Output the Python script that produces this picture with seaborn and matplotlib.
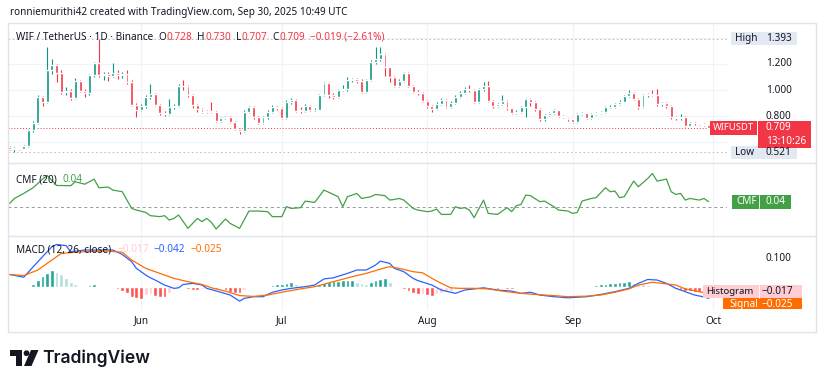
import matplotlib
matplotlib.use("Agg")
import matplotlib.pyplot as plt
from matplotlib.patches import Rectangle, Circle, Polygon
import seaborn as sns
import pandas as pd

# WIF/USDT daily candles, 4 May - 30 Sep 2025 (bar 0 = 4 May)
opens = [
    0.565, 0.548, 0.552, 0.550, 0.569, 0.692, 0.744, 0.949, 0.910, 1.154,
    1.192, 1.128, 0.987, 0.995, 0.936, 1.072, 0.995, 0.974, 1.115, 1.205,
    1.115, 1.120, 1.108, 1.128, 1.112, 1.125, 1.064, 0.885, 0.846, 0.877,
    0.949, 0.969, 0.885, 0.820, 0.815, 0.867, 0.880, 1.031, 1.030, 0.962,
    0.885, 0.851, 0.833, 0.840, 0.830, 0.764, 0.785, 0.790, 0.756, 0.697,
    0.687, 0.833, 0.867, 0.790, 0.749, 0.790, 0.833, 0.867, 0.862, 0.782,
    0.910, 0.923, 0.841, 0.840, 0.877, 0.846, 0.850, 0.962, 1.051, 0.962,
    0.949, 0.999, 1.005, 1.077, 1.082, 1.072, 0.987, 1.077, 1.218, 1.236,
    1.277, 1.174, 1.103, 1.033, 1.072, 1.128, 1.031, 0.987, 0.974, 0.918,
    0.877, 0.851, 0.892, 0.923, 0.872, 0.903, 0.949, 0.979, 1.005, 1.000,
    0.910, 1.005, 1.031, 0.918, 0.877, 0.892, 0.918, 0.859, 0.826, 0.830,
    0.872, 0.928, 0.910, 0.851, 0.774, 0.808, 0.820, 0.846, 0.800, 0.790,
    0.774, 0.756, 0.815, 0.820, 0.782, 0.815, 0.820, 0.833, 0.867, 0.872,
    0.892, 0.910, 0.954, 0.979, 0.928, 0.867, 0.962, 0.969, 0.964, 0.892,
    0.900, 0.877, 0.790, 0.782, 0.795, 0.726, 0.744, 0.743, 0.738, 0.728]
highs = [
    0.572, 0.560, 0.558, 0.575, 0.700, 0.760, 0.960, 0.955, 1.330, 1.240,
    1.200, 1.150, 1.020, 1.010, 1.090, 1.080, 1.010, 1.125, 1.215, 1.393,
    1.140, 1.135, 1.205, 1.150, 1.140, 1.150, 1.075, 0.900, 0.890, 0.960,
    1.050, 0.975, 0.895, 0.835, 0.930, 0.895, 1.045, 1.080, 1.040, 0.970,
    0.895, 0.860, 0.850, 0.910, 0.840, 0.795, 0.800, 0.800, 0.765, 0.705,
    0.845, 0.880, 0.875, 0.800, 0.800, 0.845, 0.885, 0.880, 0.870, 0.920,
    0.935, 0.930, 0.870, 0.890, 0.885, 0.860, 0.970, 1.060, 1.060, 0.975,
    1.010, 1.040, 1.100, 1.090, 1.095, 1.085, 1.085, 1.230, 1.328, 1.333,
    1.285, 1.180, 1.110, 1.085, 1.140, 1.135, 1.040, 1.000, 0.985, 0.925,
    0.885, 0.905, 0.935, 0.930, 0.915, 0.960, 0.990, 1.020, 1.040, 1.010,
    1.015, 1.065, 1.070, 0.925, 0.900, 0.962, 0.925, 0.865, 0.845, 0.880,
    0.935, 0.935, 0.915, 0.860, 0.815, 0.830, 0.855, 0.850, 0.808, 0.795,
    0.780, 0.825, 0.830, 0.825, 0.825, 0.830, 0.842, 0.875, 0.882, 0.900,
    0.920, 0.965, 1.000, 0.985, 0.935, 0.972, 0.975, 1.000, 1.005, 0.910,
    0.905, 0.885, 0.800, 0.815, 0.800, 0.752, 0.752, 0.748, 0.745, 0.730]
lows = [
    0.540, 0.521, 0.542, 0.545, 0.560, 0.680, 0.735, 0.880, 0.900, 1.120,
    1.060, 0.970, 0.960, 0.920, 0.930, 0.985, 0.950, 0.965, 1.100, 1.100,
    1.080, 1.070, 1.100, 1.085, 1.095, 1.050, 0.875, 0.790, 0.835, 0.865,
    0.930, 0.875, 0.810, 0.800, 0.810, 0.855, 0.870, 1.000, 0.950, 0.860,
    0.830, 0.820, 0.825, 0.820, 0.755, 0.755, 0.775, 0.745, 0.690, 0.660,
    0.680, 0.825, 0.780, 0.740, 0.740, 0.780, 0.825, 0.845, 0.775, 0.775,
    0.895, 0.830, 0.825, 0.830, 0.835, 0.838, 0.845, 0.955, 0.935, 0.930,
    0.940, 0.990, 0.995, 1.065, 1.055, 0.975, 0.980, 1.070, 1.200, 1.220,
    1.110, 1.060, 1.020, 1.025, 1.060, 1.020, 0.975, 0.960, 0.905, 0.860,
    0.830, 0.845, 0.885, 0.860, 0.865, 0.895, 0.940, 0.970, 0.985, 0.900,
    0.900, 0.995, 0.905, 0.865, 0.868, 0.885, 0.850, 0.815, 0.815, 0.820,
    0.790, 0.880, 0.840, 0.765, 0.765, 0.800, 0.812, 0.790, 0.782, 0.765,
    0.745, 0.750, 0.805, 0.775, 0.775, 0.808, 0.812, 0.825, 0.858, 0.862,
    0.885, 0.905, 0.945, 0.920, 0.855, 0.860, 0.950, 0.955, 0.880, 0.880,
    0.865, 0.780, 0.770, 0.772, 0.718, 0.720, 0.732, 0.728, 0.720, 0.707]
closes = [
    0.548, 0.552, 0.550, 0.569, 0.692, 0.744, 0.949, 0.910, 1.154, 1.192,
    1.128, 0.987, 0.995, 0.936, 1.072, 0.995, 0.974, 1.115, 1.205, 1.115,
    1.120, 1.108, 1.128, 1.112, 1.125, 1.064, 0.885, 0.846, 0.877, 0.949,
    0.969, 0.885, 0.820, 0.815, 0.867, 0.880, 1.031, 1.030, 0.962, 0.885,
    0.851, 0.833, 0.840, 0.830, 0.764, 0.785, 0.790, 0.756, 0.697, 0.687,
    0.833, 0.867, 0.790, 0.749, 0.790, 0.833, 0.867, 0.862, 0.782, 0.910,
    0.923, 0.841, 0.840, 0.877, 0.846, 0.850, 0.962, 1.051, 0.962, 0.949,
    0.999, 1.005, 1.077, 1.082, 1.072, 0.987, 1.077, 1.218, 1.236, 1.277,
    1.174, 1.103, 1.033, 1.072, 1.128, 1.031, 0.987, 0.974, 0.918, 0.877,
    0.851, 0.892, 0.923, 0.872, 0.903, 0.949, 0.979, 1.005, 1.000, 0.910,
    1.005, 1.031, 0.918, 0.877, 0.892, 0.918, 0.859, 0.826, 0.830, 0.872,
    0.928, 0.910, 0.851, 0.774, 0.808, 0.820, 0.846, 0.800, 0.790, 0.774,
    0.756, 0.815, 0.820, 0.782, 0.815, 0.820, 0.833, 0.867, 0.872, 0.892,
    0.910, 0.954, 0.979, 0.928, 0.867, 0.962, 0.969, 0.964, 0.892, 0.900,
    0.877, 0.790, 0.782, 0.795, 0.726, 0.744, 0.743, 0.738, 0.728, 0.709]

# CMF(20), read at the line's corners (bar index, value)
cmf_bar = [0, 1, 3, 5, 7, 8, 10, 13, 14, 16, 18, 19, 21, 22, 24, 26, 27, 29, 30, 32,
           33, 34, 35, 36, 37, 38, 40, 41, 42, 43, 44, 46, 47, 49, 51, 53, 55, 56, 58, 59,
           60, 62, 63, 65, 67, 69, 70, 71, 72, 74, 75, 77, 78, 80, 81, 82, 83, 84, 86, 87,
           89, 90, 91, 92, 94, 95, 96, 97, 98, 99, 101, 102, 104, 106, 107, 108, 109, 110, 111, 113,
           114, 116, 117, 119, 120, 121, 122, 124, 125, 127, 128, 129, 130, 131, 133, 134, 136, 137, 138, 140,
           141, 142, 143, 144, 145, 147, 148, 149]
cmf_val = [0.026, 0.066, 0.106, 0.152, 0.22, 0.25, 0.17, 0.168, 0.20, 0.18,
           0.221, 0.152, 0.157, 0.133, 0.12, -0.014, -0.027, -0.046, -0.072, -0.08,
           -0.072, -0.107, -0.094, -0.067, -0.12, -0.174, -0.094, -0.12, -0.094, -0.126,
           -0.179, -0.099, -0.134, -0.174, -0.035, -0.035, -0.04, -0.08, -0.08, 0.0,
           -0.014, -0.008, 0.045, 0.034, 0.133, 0.098, 0.08, 0.0, 0.08, 0.106,
           0.066, 0.08, 0.098, 0.088, 0.053, 0.058, 0.066, 0.053, -0.014, -0.027,
           -0.04, -0.035, -0.019, -0.062, -0.062, 0.0, -0.014, -0.008, -0.027, -0.088,
           0.053, -0.054, -0.062, -0.008, -0.04, 0.008, 0.018, 0.093, 0.088, 0.04,
           0.045, 0.0, -0.027, -0.035, -0.054, -0.046, 0.045, 0.066, 0.072, 0.152,
           0.12, 0.125, 0.072, 0.08, 0.205, 0.16, 0.226, 0.266, 0.205, 0.221,
           0.12, 0.098, 0.106, 0.053, 0.066, 0.053, 0.066, 0.04]

# MACD (12, 26, close): MACD and signal lines read at their corners
macd_bar = [0, 3, 6, 9, 10, 12, 13, 16, 19, 22, 24, 26, 27, 29, 30, 31, 33, 35, 36, 37,
            39, 41, 42, 45, 47, 49, 50, 52, 54, 56, 58, 60, 63, 65, 67, 69, 72, 74, 76, 78,
            79, 81, 82, 84, 86, 87, 90, 92, 95, 97, 100, 101, 104, 107, 109, 111, 113, 116, 119, 123,
            126, 129, 132, 134, 136, 138, 140, 142, 144, 146, 148, 149]
macd_val = [0.044, 0.034, 0.090, 0.144, 0.152, 0.148, 0.126, 0.132, 0.132, 0.132,
            0.116, 0.090, 0.066, 0.042, 0.032, 0.024, 0.006, -0.006, -0.004, 0.008,
            0.012, 0.006, -0.006, -0.020, -0.030, -0.052, -0.042, -0.036, -0.036, -0.020,
            -0.012, -0.006, 0.000, 0.006, 0.028, 0.032, 0.048, 0.060, 0.060, 0.078,
            0.092, 0.084, 0.066, 0.054, 0.030, 0.022, 0.006, -0.012, -0.024, -0.012,
            -0.006, -0.004, -0.012, -0.016, -0.024, -0.020, -0.030, -0.036, -0.040, -0.036,
            -0.028, -0.018, -0.006, 0.012, 0.026, 0.024, 0.012, -0.006, -0.018, -0.030,
            -0.037, -0.042]
sig_bar = [0, 3, 6, 9, 11, 14, 16, 21, 24, 26, 29, 32, 35, 38, 41, 43, 46, 49, 52, 55,
           58, 62, 65, 69, 73, 76, 80, 81, 83, 86, 88, 90, 92, 94, 96, 99, 102, 105, 109, 112,
           116, 119, 123, 126, 129, 132, 134, 137, 139, 142, 144, 147, 149]
sig_val = [0.044, 0.040, 0.060, 0.096, 0.120, 0.124, 0.126, 0.128, 0.124, 0.096,
           0.066, 0.048, 0.030, 0.018, 0.008, -0.004, -0.016, -0.032, -0.035, -0.030,
           -0.020, -0.008, 0.000, 0.018, 0.036, 0.048, 0.068, 0.072, 0.066, 0.054,
           0.050, 0.030, 0.012, -0.004, -0.006, -0.006, -0.008, -0.016, -0.024, -0.028,
           -0.032, -0.036, -0.034, -0.030, -0.020, -0.008, 0.006, 0.016, 0.012, 0.006,
           -0.008, -0.018, -0.025]
hist = [
    -0.002, -0.004, -0.004, -0.006, -0.002, 0.008, 0.024, 0.038, 0.050, 0.060,
    0.054, 0.044, 0.032, 0.018, 0.008, 0.004, 0.002, 0.006, 0.008, 0.004,
    0.001, -0.002, -0.006, -0.010, -0.016, -0.024, -0.036, -0.042, -0.044, -0.030,
    -0.026, -0.032, -0.036, -0.038, -0.024, -0.010, -0.004, -0.006, -0.010, -0.011,
    -0.012, -0.008, -0.004, -0.004, -0.008, -0.004, -0.012, -0.018, -0.022, -0.024,
    -0.012, -0.004, -0.002, -0.004, -0.002, 0.004, 0.006, 0.008, 0.010, 0.014,
    0.018, 0.008, 0.006, 0.005, 0.004, 0.004, 0.010, 0.014, 0.018, 0.020,
    0.022, 0.023, 0.024, 0.025, 0.018, 0.014, 0.010, 0.018, 0.024, 0.028,
    0.030, 0.018, 0.004, -0.004, -0.010, -0.016, -0.022, -0.028, -0.026, -0.030,
    -0.032, -0.028, -0.024, -0.020, -0.016, -0.010, -0.006, -0.004, -0.003, -0.002,
    -0.002, 0.004, -0.002, -0.006, -0.008, -0.004, -0.008, -0.010, -0.004, -0.002,
    0.002, 0.000, -0.002, -0.004, -0.006, -0.004, -0.002, -0.004, -0.006, -0.004,
    -0.003, -0.002, 0.002, 0.002, 0.004, 0.006, 0.008, 0.010, 0.012, 0.014,
    0.016, 0.018, 0.022, 0.012, 0.010, 0.008, 0.006, 0.004, 0.002, -0.002,
    -0.004, -0.006, -0.010, -0.012, -0.014, -0.016, -0.018, -0.020, -0.021, -0.017]

month_bar = [28, 58, 89, 120, 150]
month_lbl = ['Jun', 'Jul', 'Aug', 'Sep', 'Oct']
price_ticks = [1.2, 1.0, 0.8]

UP, DOWN = '#089981', '#F23645'
DARK = '#131722'
GRID = '#f0f3fa'

sns.set_theme(style='white')
plt.rcParams['font.family'] = ['Noto Sans', 'DejaVu Sans']

W, H = 825, 385
fig = plt.figure(figsize=(W / 100, H / 100), dpi=100, facecolor='white')


def rect(x0, y0, x1, y1):
    return [x0 / W, 1 - y1 / H, (x1 - x0) / W, (y1 - y0) / H]


ax_p = fig.add_axes(rect(8, 23, 727, 163))
ax_c = fig.add_axes(rect(8, 163, 727, 236))
ax_m = fig.add_axes(rect(8, 236, 727, 310))

for ax in (ax_p, ax_c, ax_m):
    ax.set_xlim(-0.36, 152.9)
    ax.set_facecolor('white')
    for s in ax.spines.values():
        s.set_visible(False)
    ax.set_xticks([])
    ax.set_yticks([])
    for b in month_bar:
        ax.axvline(b, color=GRID, lw=0.8, zorder=0)

ax_p.set_ylim(0.439, 1.515)
ax_c.set_ylim(-0.235, 0.35)
ax_m.set_ylim(-0.0839, 0.1825)

# price pane: grid, reference lines, candles
for v in [0.6, 0.8, 1.0, 1.2, 1.4]:
    ax_p.axhline(v, color=GRID, lw=0.8, zorder=0)
ax_p.axhline(1.393, color='#b2b5be', lw=0.6, ls=(0, (2, 3)), zorder=1)
ax_p.axhline(0.521, color='#b2b5be', lw=0.6, ls=(0, (2, 3)), zorder=1)
ax_p.axhline(closes[-1], color=DOWN, lw=0.7, ls=(0, (1, 2)), zorder=1)

df = pd.DataFrame({'o': opens, 'h': highs, 'l': lows, 'c': closes})
df['bar'] = range(len(df))
df['col'] = [UP if c >= o else DOWN for o, c in zip(df.o, df.c)]
ax_p.vlines(df.bar, df.l, df.h, colors=df.col, lw=0.8, zorder=2)
body = (df.c - df.o).abs().clip(lower=0.003)
ax_p.bar(df.bar, body, bottom=df[['o', 'c']].min(axis=1), width=0.62,
         color=df.col, zorder=3)

# CMF pane
ax_c.axhline(0, color='#9598a1', lw=0.7, ls=(0, (3, 3)), zorder=1)
sns.lineplot(x=cmf_bar, y=cmf_val, ax=ax_c, color='#43A047', lw=0.9)

# MACD pane
hcol = []
prev = 0
for v in hist:
    if v >= 0:
        hcol.append('#26A69A' if v > prev else '#B2DFDB')
    else:
        hcol.append('#FFCDD2' if v > prev else '#FF5252')
    prev = v
ax_m.bar(range(len(hist)), hist, width=0.8, color=hcol, zorder=2)
sns.lineplot(x=macd_bar, y=macd_val, ax=ax_m, color='#2962FF', lw=0.9, zorder=3)
sns.lineplot(x=sig_bar, y=sig_val, ax=ax_m, color='#FF6D00', lw=0.9, zorder=3)

for ax in (ax_p, ax_c, ax_m):
    ax.set_xlabel('')
    ax.set_ylabel('')
ax_m.set_xticks(month_bar, month_lbl)
ax_m.tick_params(axis='x', length=0, pad=4, labelsize=7.2, labelcolor=DARK)

# overlay in pixel coordinates for frame, labels and logo
top = fig.add_axes([0, 0, 1, 1], zorder=5)
top.set_xlim(0, W)
top.set_ylim(H, 0)
top.axis('off')
top.patch.set_alpha(0)

EDGE = '#e0e3eb'
top.add_patch(Rectangle((8, 23), 808, 309, fill=False, ec=EDGE, lw=1))
top.plot([8, 816], [163, 163], color=EDGE, lw=1)
top.plot([8, 816], [236, 236], color=EDGE, lw=1)


def ypix(ax, v):
    return H - ax.transData.transform((0, v))[1]


renderer = fig.canvas.get_renderer()


def text_row(x, y, pieces, size=7.2):
    for s, col, gap in pieces:
        t = top.text(x, y, s, color=col, fontsize=size, ha='left', va='center')
        x += t.get_window_extent(renderer).width + gap


def box(x, y, w, h, fc):
    top.add_patch(Rectangle((x, y), w, h, fc=fc, ec='none', zorder=4))


def label(x, y, s, col, size=7.2, ha='left'):
    return top.text(x, y, s, fontsize=size, color=col, va='center', ha=ha, zorder=5)


top.text(10, 13, 'ronniemurithi42 created with TradingView.com, Sep 30, 2025 10:49 UTC',
         fontsize=7.2, color=DARK, ha='left', va='center')
text_row(16, 37, [('WIF / TetherUS · 1D · Binance', DARK, 5), ('O', DARK, 0.5),
                  ('0.728', DOWN, 5), ('H', DARK, 0.5), ('0.730', DOWN, 5),
                  ('L', DARK, 0.5), ('0.707', DOWN, 5), ('C', DARK, 0.5),
                  ('0.709', DOWN, 5), ('−0.019 (−2.61%)', DOWN, 0)])
text_row(16, 180, [('CMF (20)', DARK, 6), ('0.04', '#43A047', 0)])
text_row(16, 250, [('MACD (12, 26, close)', DARK, 6), ('−0.017', '#FFCDD2', 5),
                   ('−0.042', '#2962FF', 5), ('−0.025', '#FF6D00', 0)])

LX = 766
for v in price_ticks:
    top.text(LX, ypix(ax_p, v), f'{v:.3f}', fontsize=7.2, color=DARK, va='center', zorder=3)

# high / low labels
for lab, v in [('High', 1.393), ('Low', 0.521)]:
    y = ypix(ax_p, v)
    box(731, y - 6.5, 66, 13, '#e3e9f3')
    label(735, y, lab, DARK)
    label(LX, y, f'{v:.3f}', DARK)

# last price labels
y = ypix(ax_p, closes[-1])
box(710, y - 7, 47, 14, DOWN)
label(733.5, y, 'WIFUSDT', 'white', size=6.8, ha='center')
box(758, y - 7, 53, 27, DOWN)
label(LX, y, '0.709', 'white')
label(LX, y + 13.5, '13:10:26', 'white')

# CMF label
y = ypix(ax_c, 0.04)
box(732, y - 7, 59, 14, '#43A047')
top.plot([759, 759], [y - 7, y + 7], color='white', lw=0.6, zorder=5)
label(736, y, 'CMF', 'white')
label(LX, y, '0.04', 'white')

# MACD scale and labels
top.text(LX, ypix(ax_m, 0.1), '0.100', fontsize=7.2, color=DARK, va='center', zorder=3)
clip = Rectangle((8, 236), 808, 73, transform=top.transData)
y = ypix(ax_m, -0.017)
box(703, y - 6.5, 99, 13, '#FFCDD2')
top.plot([759, 759], [y - 6.5, y + 6.5], color='white', lw=0.6, zorder=5)
label(706, y, 'Histogram', DARK, size=6.9)
label(LX - 4, y, '−0.017', DARK)
y2 = y + 13.5
sig_box = Rectangle((723, y2 - 6.5), 79, 13, fc='#FF6D00', ec='none', zorder=4)
top.add_patch(sig_box)
sig_items = [sig_box, label(729, y2, 'Signal', 'white'), label(LX - 4, y2, '−0.025', 'white')]
for it in sig_items:
    it.set_clip_path(clip)

# TradingView logo
top.add_patch(Polygon([(10, 350), (22, 350), (22, 366), (16, 366), (16, 356), (10, 356)],
                      closed=True, fc='#131722', ec='none'))
top.add_patch(Circle((26.5, 353.2), 2.9, fc='#131722', ec='none'))
top.add_patch(Polygon([(31, 350), (38.5, 350), (31.5, 366), (24, 366)],
                      closed=True, fc='#131722', ec='none'))
top.text(42, 358, 'TradingView', fontsize=12.6, color='#131722', va='center',
         ha='left', family=['Inter', 'DejaVu Sans'], weight='semibold')

fig.savefig('out.png', dpi=100, facecolor='white')
